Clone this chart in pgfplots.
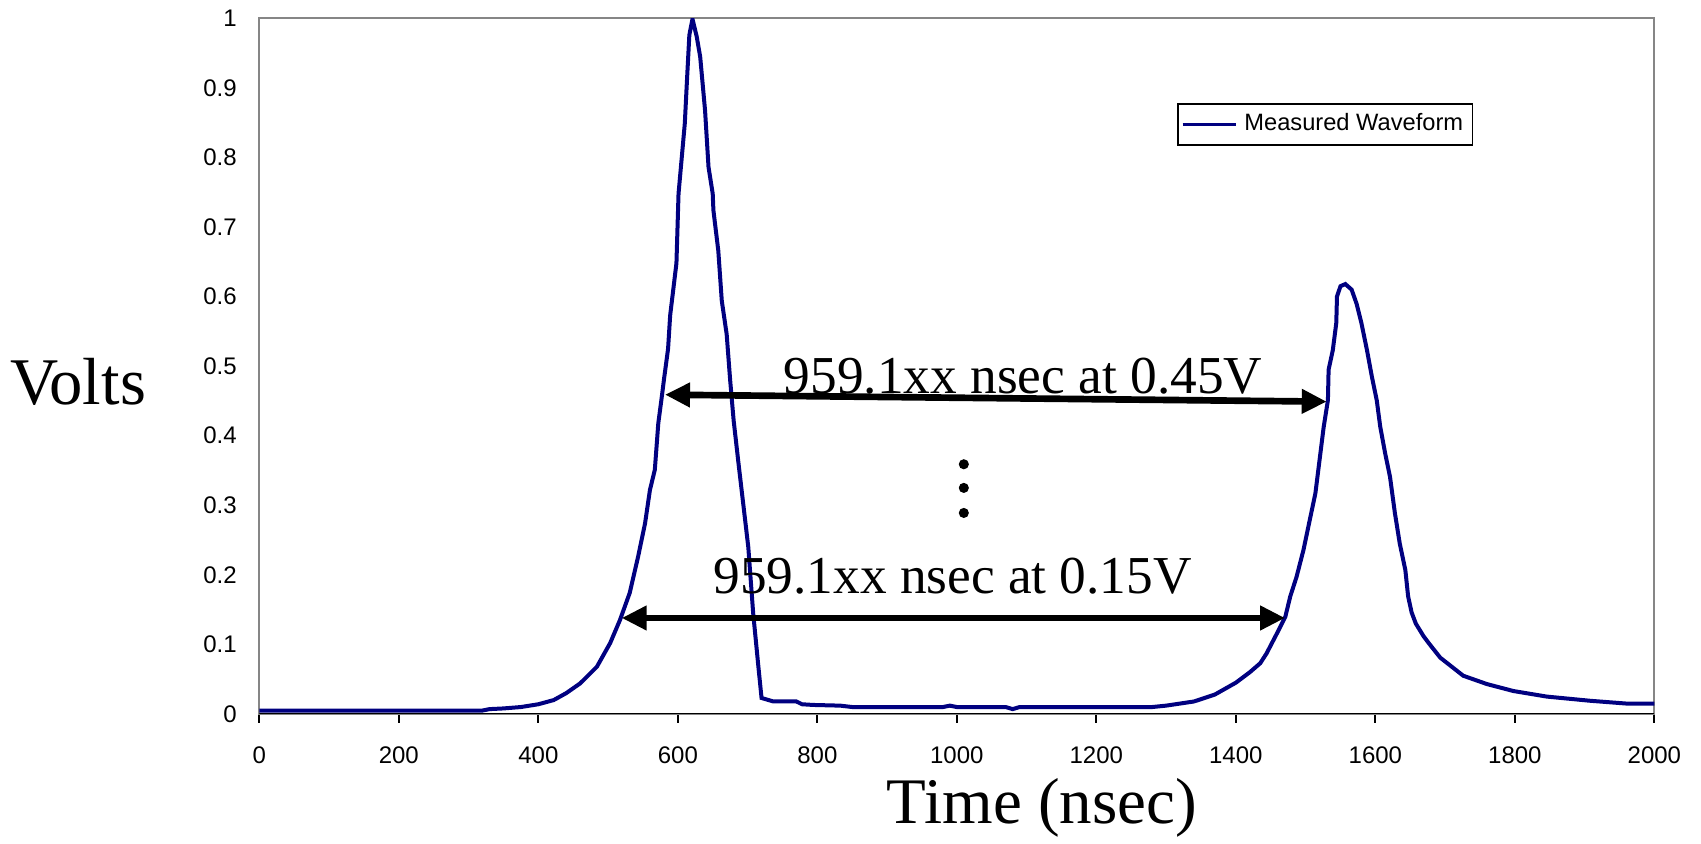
\documentclass[border=0pt]{standalone}
\usepackage{fontspec}
\setmainfont{Liberation Sans}
\newfontfamily\seriffont{Liberation Serif}
\usepackage{pgfplots}
\pgfplotsset{compat=1.18}
\usetikzlibrary{arrows.meta}
\definecolor{navyline}{HTML}{000080}
\definecolor{framegray}{HTML}{868686}

\pgfplotstableread{
x y
0 0.005
100 0.005
200 0.005
320 0.005
330 0.007
350 0.008
375 0.010
400 0.014
422 0.020
440 0.030
460 0.044
484 0.068
503 0.102
517 0.135
531 0.174
543 0.226
553 0.274
560 0.322
567 0.351
572 0.418
577 0.456
580 0.480
586 0.525
589 0.573
598 0.648
601 0.748
610 0.849
613 0.909
616.5 0.976
621 0.999
627 0.974
632 0.945
639 0.868
644 0.786
650 0.748
651 0.724
658 0.666
663 0.594
670 0.546
675 0.480
680 0.422
687 0.360
701 0.240
708 0.145
715 0.073
720 0.023
737 0.018
770 0.018
778 0.014
794 0.013
833 0.012
850 0.010
980 0.010
990 0.012
1000 0.010
1070 0.010
1080 0.007
1090 0.010
1280 0.010
1300 0.012
1340 0.018
1370 0.028
1400 0.045
1420 0.060
1435 0.073
1444 0.087
1459 0.116
1471 0.140
1478 0.169
1487 0.197
1497 0.236
1506 0.279
1514 0.317
1520 0.365
1526 0.413
1532 0.451
1533 0.495
1539 0.523
1544 0.562
1545 0.600
1550 0.615
1557 0.618
1566 0.610
1573 0.590
1580 0.562
1588 0.523
1595 0.485
1602 0.451
1607 0.413
1614 0.375
1621 0.341
1628 0.289
1635 0.245
1643 0.207
1647 0.169
1652 0.146
1658 0.130
1669 0.112
1678 0.100
1693 0.081
1726 0.055
1760 0.043
1798 0.033
1846 0.025
1908 0.019
1960 0.015
2000 0.015
}\wave

\begin{document}
\begin{tikzpicture}
\useasboundingbox (-77.8pt,-39pt) rectangle (432.5pt,214.2pt);
\begin{axis}[
  at={(0pt,0pt)}, anchor=south west, scale only axis,
  width=418.5pt, height=208.7pt,
  xmin=0, xmax=2000, ymin=0, ymax=1,
  xtick={0,200,400,600,800,1000,1200,1400,1600,1800,2000},
  ytick={0,0.1,0.2,0.3,0.4,0.5,0.6,0.7,0.8,0.9,1},
  scaled ticks=false,
  /pgf/number format/1000 sep={},
  /pgf/number format/assume math mode=true,
  axis line style={draw=framegray, line width=0.6pt},
  tick align=outside,
  xtick pos=bottom,
  ytick pos=left,
  major tick length=2.6pt,
  xtick style={draw=black, line width=0.6pt},
  ytick style={draw=none},
  tick label style={font=\fontsize{7.2}{8}\selectfont},
  xticklabel style={anchor=north, inner sep=0pt, yshift=-7pt},
  yticklabel style={anchor=east, inner sep=0pt, xshift=-4pt},
  xlabel={Time (nsec)},
  ylabel={Volts},
  xlabel style={at={(axis description cs:0.561,-0.135)}, anchor=center, font=\seriffont\fontsize{19.5}{22}\selectfont},
  ylabel style={at={(axis description cs:-0.130,0.477)}, anchor=center, rotate=-90, font=\seriffont\fontsize{20}{22}\selectfont},
  legend style={at={(axis description cs:0.658,0.878)}, anchor=north west, draw=black, line width=0.5pt,
    font=\fontsize{7.1}{7.5}\selectfont, inner sep=0.8pt},
  legend cell align=left,
  legend image code/.code={\draw[#1, line width=1.1pt] (0pt,0pt) -- (16pt,0pt);},
]
\addplot[navyline, line width=1.2pt] table[x=x, y=y] {\wave};
\addlegendentry{Measured Waveform}
\addplot[only marks, mark=*, mark size=1.3pt, black, forget plot] coordinates {(1010,0.359) (1010,0.325) (1010,0.289)};
\draw[black, line width=0.6pt] (rel axis cs:0,0) -- (rel axis cs:1,0);
\draw[line width=2pt, {Triangle[length=7.5pt,width=7pt]}-{Triangle[length=7.5pt,width=7pt]}] (axis cs:581.6,0.459) -- (axis cs:1530.3,0.449);
\draw[line width=2pt, {Triangle[length=7.5pt,width=7pt]}-{Triangle[length=7.5pt,width=7pt]}] (axis cs:519.5,0.138) -- (axis cs:1470.6,0.138);
\node[anchor=base west, inner sep=0pt, font=\seriffont\fontsize{16}{18}\selectfont] at (axis cs:751,0.460) {959.1xx nsec at 0.45V};
\node[anchor=base west, inner sep=0pt, font=\seriffont\fontsize{16}{18}\selectfont] at (axis cs:650,0.173) {959.1xx nsec at 0.15V};
\end{axis}
\end{tikzpicture}
\end{document}
